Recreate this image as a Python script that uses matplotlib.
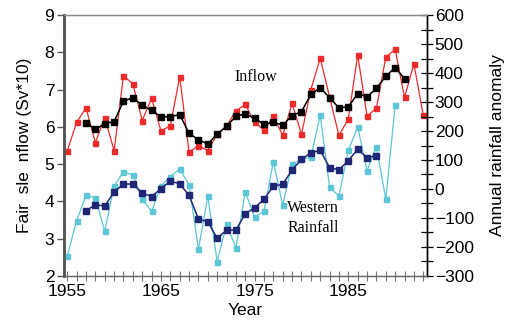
import matplotlib
matplotlib.use("Agg")
import matplotlib.pyplot as plt
from matplotlib.ticker import MultipleLocator, FixedLocator

plt.rcParams['font.family'] = ['Liberation Sans', 'DejaVu Sans']

inflow_years = list(range(1955, 1994))
inflow = [5.36, 6.12, 6.51, 5.58, 6.25, 5.36, 7.37, 7.15, 6.17, 6.77,
          5.89, 6.03, 7.34, 5.32, 5.50, 5.36, 5.80, 6.02, 6.43, 6.60,
          6.12, 5.91, 6.28, 5.77, 6.63, 5.80, 7.00, 7.84, 6.80, 5.77,
          6.21, 7.93, 6.29, 6.50, 7.87, 8.08, 6.79, 7.69, 6.31]

inflow_mean_years = list(range(1957, 1992))
inflow_mean = [6.11, 5.93, 6.09, 6.14, 6.69, 6.78, 6.58, 6.44, 6.27, 6.27,
               6.33, 5.83, 5.65, 5.54, 5.80, 6.02, 6.28, 6.35, 6.23, 6.07,
               6.12, 6.05, 6.30, 6.41, 6.87, 7.05, 6.78, 6.51, 6.54, 6.89,
               6.81, 7.03, 7.36, 7.59, 7.29]

rain_years = list(range(1955, 1991))
rain = [-231, -109, -22, -30, -145, 10, 60, 48, -35, -77,
        10, 43, 69, 15, -208, -25, -251, -122, -202, -10,
        -98, -76, 94, -55, 86, 103, 109, 255, 6, -24,
        133, 214, 63, 146, -35, 289]

rain_mean_years = list(range(1957, 1989))
rain_mean = [-75, -54, -59, -10, 17, 17, -14, -26, 1, 27,
             18, -22, -103, -113, -170, -142, -142, -85, -65, -35,
             10, 16, 66, 102, 125, 133, 74, 66, 98, 137,
             108, 115]

xtick_labels = [1955, 1965, 1975, 1985]

fig = plt.figure(figsize=(5.12, 3.25), dpi=100)
ax = fig.add_axes([0.125, 0.1508, 0.709, 0.803])
ax2 = ax.twinx()

red = '#ee2b2b'
cyan = '#5cc6d6'
navy = '#1f2775'

ax.plot(inflow_years, inflow, color=red, lw=0.9, marker='s', ms=3.6, mec=red, mfc=red, zorder=2)
ax.plot(inflow_mean_years, inflow_mean, color='black', lw=1.1, marker='s', ms=4.2, zorder=3)
ax2.plot(rain_years, rain, color=cyan, lw=0.9, marker='s', ms=3.6, mec=cyan, mfc=cyan, zorder=2)
ax2.plot(rain_mean_years, rain_mean, color=navy, lw=1.1, marker='s', ms=4.0, mec=navy, mfc=navy, zorder=3)

ax.set_xlim(1954.65, 1993.4)
ax.set_ylim(2, 9)
ax2.set_ylim(-300, 600)

ax.xaxis.set_major_locator(FixedLocator(xtick_labels))
ax.xaxis.set_minor_locator(MultipleLocator(1))
ax.tick_params(axis='x', which='both', direction='inout', length=7, width=0.8, color='#777777', labelsize=12.5, pad=2.5)
ax.set_yticks(range(2, 10))
ax.tick_params(axis='y', which='major', direction='out', length=5, width=1.0, color='#555555', labelsize=12.5, pad=2)

ax2.yaxis.set_major_locator(MultipleLocator(100))
ax2.yaxis.set_minor_locator(MultipleLocator(50))
ax2.tick_params(axis='y', which='both', direction='inout', length=9, width=0.9, color='black', labelsize=12.5, pad=1)

for a in (ax, ax2):
    a.spines['left'].set_color('#555555')
    a.spines['left'].set_linewidth(1.8)
    a.spines['top'].set_color('#888888')
    a.spines['top'].set_linewidth(0.9)
    a.spines['bottom'].set_color('#666666')
    a.spines['bottom'].set_linewidth(0.9)
    a.spines['right'].set_color('black')
    a.spines['right'].set_linewidth(1.0)

ax.set_xlabel('Year', fontsize=12.5, labelpad=3)
ax.set_ylabel('Fair  sle  nflow (Sv*10)', fontsize=12.5, labelpad=9)
ax2.set_ylabel('Annual rainfall anomaly', fontsize=12.5, labelpad=12)

ax.text(1972.9, 7.34, 'Inflow', family='Liberation Serif', fontsize=11.5, ha='left', va='center')
ax2.text(1978.5, -38, 'Western\nRainfall', family='Liberation Serif', fontsize=11.5, ha='left', va='top', linespacing=1.3)

fig.savefig('out.png', dpi=100)
